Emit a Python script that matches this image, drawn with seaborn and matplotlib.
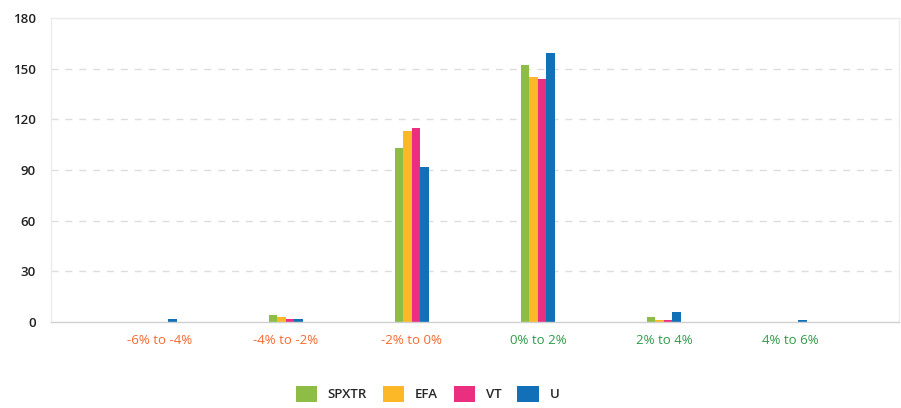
import pandas as pd
import matplotlib
matplotlib.use("Agg")
import matplotlib.pyplot as plt
import seaborn as sns

categories = ["-6% to -4%", "-4% to -2%", "-2% to 0%", "0% to 2%", "2% to 4%", "4% to 6%"]
spxtr = [0, 4, 103, 152, 3, 0]
efa = [0, 3, 113, 145, 1, 0]
vt = [0, 2, 115, 144, 1, 0]
u = [2, 2, 92, 159, 6, 1]
series_names = ["SPXTR", "EFA", "VT", "U"]
colors = ["#8DBD45", "#FDB827", "#EB2F80", "#1270B8"]
label_colors = ["#F26A2E", "#F26A2E", "#F26A2E", "#2F9A48", "#2F9A48", "#2F9A48"]
yticks = [0, 30, 60, 90, 120, 150, 180]

rows = []
for name, vals in zip(series_names, [spxtr, efa, vt, u]):
    for cat, v in zip(categories, vals):
        rows.append({"range": cat, "series": name, "count": v})
df = pd.DataFrame(rows)

sns.set_style("white")
plt.rcParams["font.family"] = ["Open Sans", "DejaVu Sans"]

fig = plt.figure(figsize=(9.01, 4.08), dpi=100)
ax = fig.add_axes([0.0566, 0.2108, 0.941, 0.745])

sns.barplot(data=df, x="range", y="count", hue="series", order=categories,
            hue_order=series_names, palette=colors, width=0.27, gap=0,
            linewidth=0, saturation=1, ax=ax)

ax.set_ylim(0, 180)
ax.set_xlim(-0.865, 5.865)
ax.set_yticks(yticks)
ax.set_yticklabels([str(t) for t in yticks], fontsize=9.5, color="#222222", fontweight="semibold")
ax.set_xticks(range(len(categories)))
ax.set_xticklabels(categories, fontsize=9.5)
for lbl, c in zip(ax.get_xticklabels(), label_colors):
    lbl.set_color(c)
ax.tick_params(axis="x", length=0, pad=9)
ax.tick_params(axis="y", length=0, pad=11)
ax.set_xlabel("")
ax.set_ylabel("")

for t in yticks[1:-1]:
    ax.axhline(t, color="#dddddd", linestyle=(0, (5, 5)), linewidth=1, zorder=0)
for s in ["top", "right", "left"]:
    ax.spines[s].set_color("#ebebeb")
    ax.spines[s].set_linewidth(1)
ax.spines["bottom"].set_color("#d0d0d0")
ax.spines["bottom"].set_linewidth(1)

ax.legend(loc="center", bbox_to_anchor=(0.444, -0.237), ncol=4, frameon=False,
          handlelength=1.6, handleheight=1.5, handletextpad=0.83, columnspacing=1.2,
          prop={"size": 9.5, "weight": "semibold"})

fig.savefig("out.png", dpi=100)
